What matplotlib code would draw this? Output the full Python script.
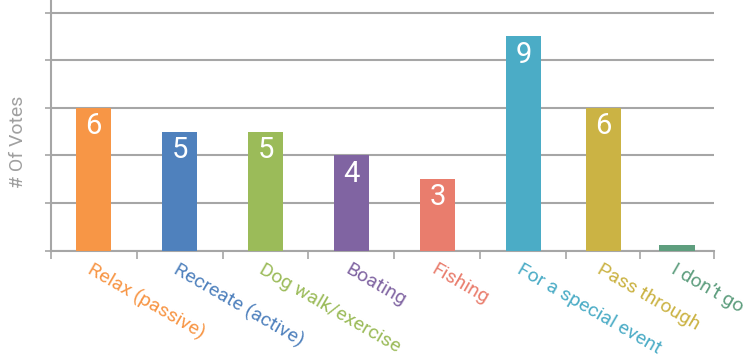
import matplotlib
matplotlib.use("Agg")
import matplotlib.pyplot as plt
import matplotlib.transforms as mtransforms
import numpy as np

categories = ["Relax (passive)", "Recreate (active)", "Dog walk/exercise", "Boating",
              "Fishing", "For a special event", "Pass through", "I don\u2019t go"]
votes = [6, 5, 5, 4, 3, 9, 6, 0.25]
value_labels = ["6", "5", "5", "4", "3", "9", "6", ""]
colors = ["#F79646", "#4F81BD", "#9BBB59", "#8064A2",
          "#E97D6D", "#4BACC6", "#CBB344", "#5E9E7E"]

grid_color = "#A6A6A6"
label_font = ["Roboto", "DejaVu Sans"]

# category slots: the last two are a little narrower
slot_widths = np.array([1, 1, 1, 1, 1, 1, 0.86, 0.86])
bounds = np.concatenate([[0.0], np.cumsum(slot_widths)]) - 0.5
centers = (bounds[:-1] + bounds[1:]) / 2

fig = plt.figure(figsize=(7.52, 3.6), dpi=100)
ax = fig.add_axes([0.0674, 0.3036, 0.9495 - 0.0674, 1.0 - 0.3036])

bars = ax.bar(centers, votes, width=0.41, color=colors, zorder=3)

ax.set_ylim(0, 10.53)
ax.set_xlim(bounds[0], bounds[-1])

# horizontal grid
ax.set_yticks([0, 2, 4, 6, 8, 10])
ax.set_yticklabels([])
ax.yaxis.grid(True, color=grid_color, linewidth=1.5, zorder=0)
ax.tick_params(axis="y", direction="out", length=4, width=1.2, color=grid_color)

# category boundaries as tick marks
ax.set_xticks(bounds)
ax.set_xticklabels([])
ax.tick_params(axis="x", direction="out", length=5.5, width=1.2, color=grid_color)

for side in ("top", "right"):
    ax.spines[side].set_visible(False)
for side in ("left", "bottom"):
    ax.spines[side].set_color(grid_color)
    ax.spines[side].set_linewidth(1.5)

# value labels inside the bars
for rect, lab in zip(bars, value_labels):
    if not lab:
        continue
    ax.annotate(lab, (rect.get_x() + rect.get_width() / 2, rect.get_height()),
                xytext=(0, -3), textcoords="offset points",
                ha="center", va="top", color="white", fontsize=21,
                family=["Roboto", "DejaVu Sans"], zorder=4)

# rotated category labels
trans = ax.get_xaxis_transform()
off = mtransforms.ScaledTranslation(0, -10 / 100, fig.dpi_scale_trans)
for xi, cat, col in zip(centers, categories, colors):
    ax.text(xi, 0, cat, transform=trans + off, rotation=-30,
            rotation_mode="anchor", ha="left", va="top", color=col,
            fontsize=14, family=label_font, fontweight="normal")

fig.text(0.0246, 0.605, "# Of Votes", rotation=90, ha="center", va="center",
         color="#A0A0A0", fontsize=14, family=label_font, fontweight="normal")

fig.savefig("out.png", dpi=100)
